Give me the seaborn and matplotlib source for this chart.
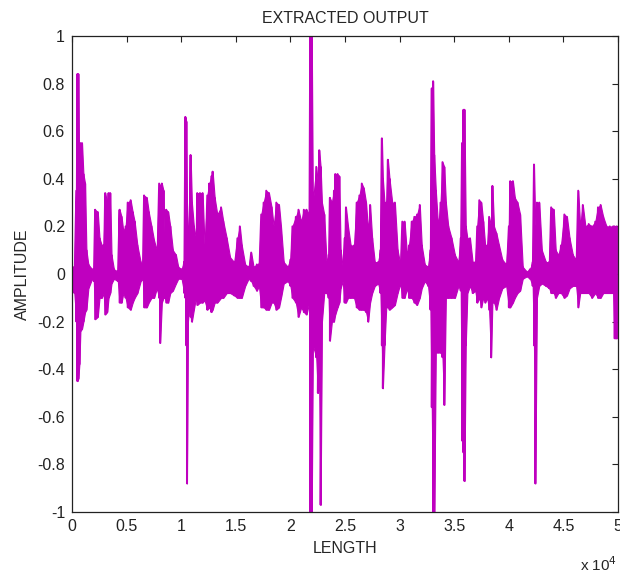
import numpy as np
import pandas as pd
import matplotlib
matplotlib.use('Agg')
import matplotlib.pyplot as plt
import seaborn as sns

# envelope of the extracted signal (sample index, upper, lower)
env_pos = [0, 215, 400, 490, 580, 675, 770, 920, 1045, 1200, 1320, 1500, 1840, 2000,
           2120, 2360, 2520, 2730, 2890, 3040, 3220, 3350, 3500, 3620, 3840, 4200,
           4360, 4540, 4700, 4910, 5100, 5370, 5560, 5740, 5990, 6290, 6480, 6600,
           6850, 7030, 7280, 7520, 7770, 7980, 8070, 8230, 8380, 8500, 8630, 8810,
           9000, 9240, 9520, 9730, 10040, 10280, 10380, 10470, 10530, 10620, 10780,
           10860, 10980, 11160, 11350, 11470, 11720, 11960, 12140, 12390, 12570,
           12760, 12880, 13070, 13310, 13650, 13860, 14170, 14480, 14850, 15150,
           15370, 15550, 15860, 16170, 16410, 16630, 16930, 17120, 17330, 17550,
           17790, 18040, 18280, 18470, 18710, 18960, 19140, 19390, 19760, 20000,
           20190, 20500, 20740, 20990, 21230, 21480, 21720, 21820, 21950, 22060,
           22370, 22520, 22640, 22770, 22890, 23100, 23310, 23500, 23620, 23800,
           23990, 24110, 24320, 24480, 24600, 24790, 24970, 25090, 25280, 25520,
           25830, 26070, 26320, 26540, 26720, 26930, 27120, 27300, 27490, 27730,
           28040, 28250, 28380, 28470, 28620, 28780, 28930, 29080, 29330, 29570,
           29820, 30070, 30250, 30460, 30680, 30860, 31110, 31350, 31600, 31850,
           32030, 32310, 32610, 32830, 32950, 33070, 33170, 33320, 33530, 33750,
           33930, 34090, 34240, 34460, 34760, 35070, 35390, 35600, 35720, 35850,
           35940, 36060, 36210, 36450, 36690, 36930, 37110, 37300, 37480, 37660,
           37840, 38020, 38200, 38380, 38500, 38650, 38870, 39110, 39410, 39770,
           40010, 40130, 40380, 40560, 40800, 41040, 41280, 41640, 41950, 42190,
           42310, 42430, 42580, 42790, 43030, 43400, 43700, 43880, 44120, 44300,
           44540, 44780, 45090, 45330, 45570, 45870, 46170, 46360, 46540, 46780,
           47020, 47320, 47620, 47920, 48170, 48410, 48650, 48950, 49250, 49560,
           49680, 49890]
env_hi = [0.03, 0.03, 0.35, 0.84, 0.84, 0.35, 0.55, 0.55, 0.42, 0.38, 0.10, 0.04, 0.02, 0.02,
          0.27, 0.26, 0.15, 0.12, 0.12, 0.34, 0.30, 0.34, 0.34, 0.08, 0.02, 0.01,
          0.27, 0.24, 0.18, 0.20, 0.30, 0.31, 0.26, 0.22, 0.12, 0.05, 0.03, 0.33,
          0.32, 0.26, 0.20, 0.14, 0.10, 0.38, 0.37, 0.38, 0.35, 0.12, 0.27, 0.26,
          0.20, 0.10, 0.08, 0.03, 0.02, 0.05, 0.66, 0.64, 0.30, 0.20, 0.13,
          0.50, 0.30, 0.20, 0.15, 0.34, 0.34, 0.34, 0.12, 0.33, 0.38,
          0.41, 0.43, 0.32, 0.25, 0.28, 0.22, 0.15, 0.07, 0.05, 0.15,
          0.20, 0.12, 0.04, 0.03, 0.09, 0.03, 0.04, 0.04, 0.25, 0.30,
          0.35, 0.34, 0.28, 0.20, 0.30, 0.29, 0.20, 0.05, 0.03, 0.06,
          0.20, 0.24, 0.27, 0.22, 0.27, 0.27, 0.25, 1.05, 1.05, 0.30,
          0.45, 0.38, 0.52, 0.45, 0.30, 0.25, 0.05, 0.08, 0.32, 0.30,
          0.35, 0.42, 0.42, 0.41, 0.10, 0.03, 0.15, 0.28, 0.20, 0.12,
          0.12, 0.30, 0.33, 0.38, 0.36, 0.30, 0.18, 0.29, 0.15, 0.05,
          0.05, 0.10, 0.57, 0.40, 0.30, 0.30, 0.48, 0.40, 0.30, 0.30,
          0.10, 0.04, 0.22, 0.22, 0.08, 0.12, 0.22, 0.24, 0.25, 0.29,
          0.12, 0.04, 0.03, 0.10, 0.78, 0.81, 0.50, 0.35, 0.20, 0.30,
          0.47, 0.45, 0.30, 0.20, 0.15, 0.08, 0.05, 0.15, 0.55, 0.69,
          0.69, 0.20, 0.15, 0.15, 0.05, 0.05, 0.20, 0.31, 0.30, 0.22,
          0.12, 0.12, 0.24, 0.20, 0.37, 0.20, 0.17, 0.12, 0.06, 0.04,
          0.20, 0.39, 0.39, 0.32, 0.30, 0.25, 0.03, 0.01, 0.02, 0.05,
          0.46, 0.20, 0.30, 0.30, 0.10, 0.05, 0.05, 0.28, 0.27, 0.10,
          0.08, 0.12, 0.25, 0.24, 0.15, 0.08, 0.06, 0.35, 0.20, 0.29,
          0.20, 0.21, 0.20, 0.22, 0.28, 0.29, 0.24, 0.20, 0.20, 0.20,
          0.20, 0.20]
env_lo = [-0.03, -0.08, -0.20, -0.45, -0.44, -0.38, -0.24, -0.23, -0.20, -0.16, -0.15, -0.06, -0.02, -0.03,
          -0.19, -0.18, -0.10, -0.10, -0.08, -0.17, -0.16, -0.10, -0.08, -0.04, -0.02, -0.03,
          -0.12, -0.12, -0.08, -0.10, -0.14, -0.15, -0.12, -0.10, -0.08, -0.03, -0.02, -0.14,
          -0.14, -0.12, -0.10, -0.10, -0.06, -0.10, -0.29, -0.12, -0.10, -0.10, -0.12, -0.12,
          -0.08, -0.07, -0.04, -0.02, -0.02, -0.08, -0.10, -0.30, -0.88, -0.20, -0.10,
          -0.18, -0.20, -0.15, -0.10, -0.13, -0.12, -0.12, -0.11, -0.15, -0.14,
          -0.16, -0.15, -0.12, -0.12, -0.10, -0.10, -0.08, -0.08, -0.09, -0.10,
          -0.10, -0.10, -0.05, -0.02, -0.03, -0.05, -0.07, -0.05, -0.14, -0.14,
          -0.15, -0.15, -0.12, -0.12, -0.15, -0.14, -0.10, -0.04, -0.03, -0.05,
          -0.10, -0.12, -0.18, -0.14, -0.16, -0.17, -0.12, -1.05, -1.05, -0.30,
          -0.35, -0.50, -0.45, -0.97, -0.20, -0.08, -0.08, -0.10, -0.28, -0.20,
          -0.20, -0.17, -0.14, -0.12, -0.06, -0.03, -0.12, -0.12, -0.10, -0.10,
          -0.10, -0.14, -0.15, -0.15, -0.15, -0.16, -0.20, -0.12, -0.08, -0.05,
          -0.04, -0.08, -0.30, -0.48, -0.30, -0.14, -0.14, -0.15, -0.14, -0.13,
          -0.08, -0.04, -0.10, -0.10, -0.06, -0.10, -0.10, -0.12, -0.13, -0.10,
          -0.06, -0.03, -0.05, -0.15, -0.56, -1.05, -1.05, -0.33, -0.33, -0.33,
          -0.35, -0.55, -0.10, -0.10, -0.10, -0.10, -0.05, -0.07, -0.70, -0.75,
          -0.87, -0.30, -0.08, -0.05, -0.08, -0.07, -0.12, -0.10, -0.14, -0.10,
          -0.12, -0.10, -0.15, -0.35, -0.12, -0.12, -0.15, -0.10, -0.06, -0.05,
          -0.14, -0.14, -0.12, -0.10, -0.08, -0.07, -0.02, -0.01, -0.02, -0.05,
          -0.30, -0.88, -0.10, -0.05, -0.04, -0.05, -0.06, -0.08, -0.08, -0.10,
          -0.08, -0.08, -0.10, -0.09, -0.06, -0.05, -0.05, -0.14, -0.08, -0.08,
          -0.08, -0.08, -0.10, -0.08, -0.10, -0.10, -0.08, -0.08, -0.08, -0.08,
          -0.27, -0.27]

x_ticks = [0, 5000, 10000, 15000, 20000, 25000, 30000, 35000, 40000, 45000, 50000]
x_labels = ['0', '0.5', '1', '1.5', '2', '2.5', '3', '3.5', '4', '4.5', '5']
y_ticks = [1, 0.8, 0.6, 0.4, 0.2, 0, -0.2, -0.4, -0.6, -0.8, -1]
y_labels = ['1', '0.8', '0.6', '0.4', '0.2', '0', '-0.2', '-0.4', '-0.6', '-0.8', '-1']

sns.set_style('white')
plt.rcParams['font.family'] = ['Liberation Sans', 'DejaVu Sans']

color = '#bf00bf'

# zigzag between upper and lower envelope, the way a dense waveform is drawn
zig = pd.DataFrame({
    'x': np.repeat(env_pos, 2),
    'y': np.ravel(np.column_stack([env_hi, env_lo])),
})

fig = plt.figure(figsize=(6.2, 5.73), dpi=100)
ax = fig.add_axes([0.1161, 0.1065, 0.8806, 0.8307])

ax.fill_between(env_pos, env_lo, env_hi, color=color, lw=0.8, edgecolor=color)
sns.lineplot(data=zig, x='x', y='y', sort=False, estimator=None, color=color, lw=1.4, ax=ax)

ax.set_xlim(0, 50000)
ax.set_ylim(-1, 1)
ax.set_xticks(x_ticks)
ax.set_xticklabels(x_labels)
ax.set_yticks(y_ticks)
ax.set_yticklabels(y_labels)
ax.tick_params(direction='in', length=4, width=0.8, top=True, right=True,
               labelsize=11.5, colors='#222222', pad=5)
for s in ax.spines.values():
    s.set_color('#222222')
    s.set_linewidth(0.9)

ax.set_title('EXTRACTED OUTPUT', fontsize=11.5, pad=9)
ax.set_xlabel('LENGTH', fontsize=11.5, labelpad=5)
ax.set_ylabel('AMPLITUDE', fontsize=11.5, labelpad=5)
fig.text(0.935, 0.003, r'x 10$^{4}$', fontsize=11)

fig.savefig('out.png', dpi=100)
